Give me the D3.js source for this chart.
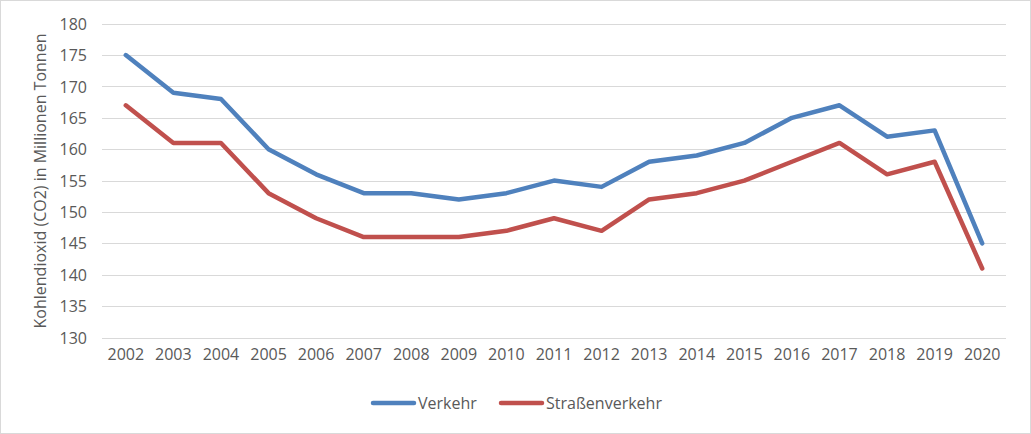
<!DOCTYPE html>
<html><head><meta charset="utf-8">
<script src="https://cdn.jsdelivr.net/npm/d3@7"></script>
<style>
body{margin:0;background:#fff;}
text{font-family:"Open Sans",sans-serif;fill:#595959;}
</style></head>
<body><svg id="c" width="1031" height="434"></svg>
<script>
const years = ["2002","2003","2004","2005","2006","2007","2008","2009","2010","2011","2012","2013","2014","2015","2016","2017","2018","2019","2020"];
const verkehr = [175,169,168,160,156,153,153,152,153,155,154,158,159,161,165,167,162,163,145];
const strassenverkehr = [167,161,161,153,149,146,146,146,147,149,147,152,153,155,158,161,156,158,141];
const yTicks = [130,135,140,145,150,155,160,165,170,175,180];
const seriesNames = ["Verkehr","Straßenverkehr"];
const colors = ["#4f81bd","#c0504d"];

const svg = d3.select("#c");
svg.append("rect").attr("x",0.5).attr("y",0.5).attr("width",1030).attr("height",433)
  .attr("fill","#fff").attr("stroke","#d9d9d9");

const x = d3.scaleBand().domain(years).range([102,1006]);
const y = d3.scaleLinear().domain([130,180]).range([337.5,23.7]);

// gridlines
svg.append("g").selectAll("line").data(yTicks).join("line")
  .attr("x1",102).attr("x2",1006)
  .attr("y1",d=>Math.round(y(d))+0.5).attr("y2",d=>Math.round(y(d))+0.5)
  .attr("stroke","#d9d9d9").attr("stroke-width",1);

// y axis
const ya = svg.append("g").attr("transform","translate(87,0)")
  .call(d3.axisLeft(y).tickValues(yTicks).tickSize(0).tickPadding(0));
ya.select(".domain").remove();
ya.selectAll("text").attr("font-size","16px").attr("font-family","Open Sans").attr("fill","#595959").attr("dy","0.35em");

// x axis
const xa = svg.append("g").attr("transform","translate(0,349)")
  .call(d3.axisBottom(x).tickSize(0).tickPadding(0));
xa.select(".domain").remove();
xa.selectAll("text").attr("font-size","16px").attr("font-family","Open Sans").attr("fill","#595959").attr("dy","0.71em");

// y title
svg.append("text").attr("transform","translate(46,181) rotate(-90)")
  .attr("text-anchor","middle").attr("font-size","16px").text("Kohlendioxid (CO2) in Millionen Tonnen");

const line = d3.line().x((d,i)=>x(years[i])+x.bandwidth()/2).y(d=>y(d));
[verkehr,strassenverkehr].forEach((s,i)=>{
  svg.append("path").attr("d",line(s)).attr("fill","none").attr("stroke",colors[i])
    .attr("stroke-width",4.5).attr("stroke-linejoin","round").attr("stroke-linecap","round");
});

// legend
const lg = [{x:373},{x:501}];
seriesNames.forEach((n,i)=>{
  svg.append("line").attr("x1",lg[i].x).attr("x2",lg[i].x+41).attr("y1",403).attr("y2",403)
    .attr("stroke",colors[i]).attr("stroke-width",4.5).attr("stroke-linecap","round");
  svg.append("text").attr("x",lg[i].x+45).attr("y",403).attr("dy","0.35em")
    .attr("font-size","16px").text(n);
});
</script></body></html>
